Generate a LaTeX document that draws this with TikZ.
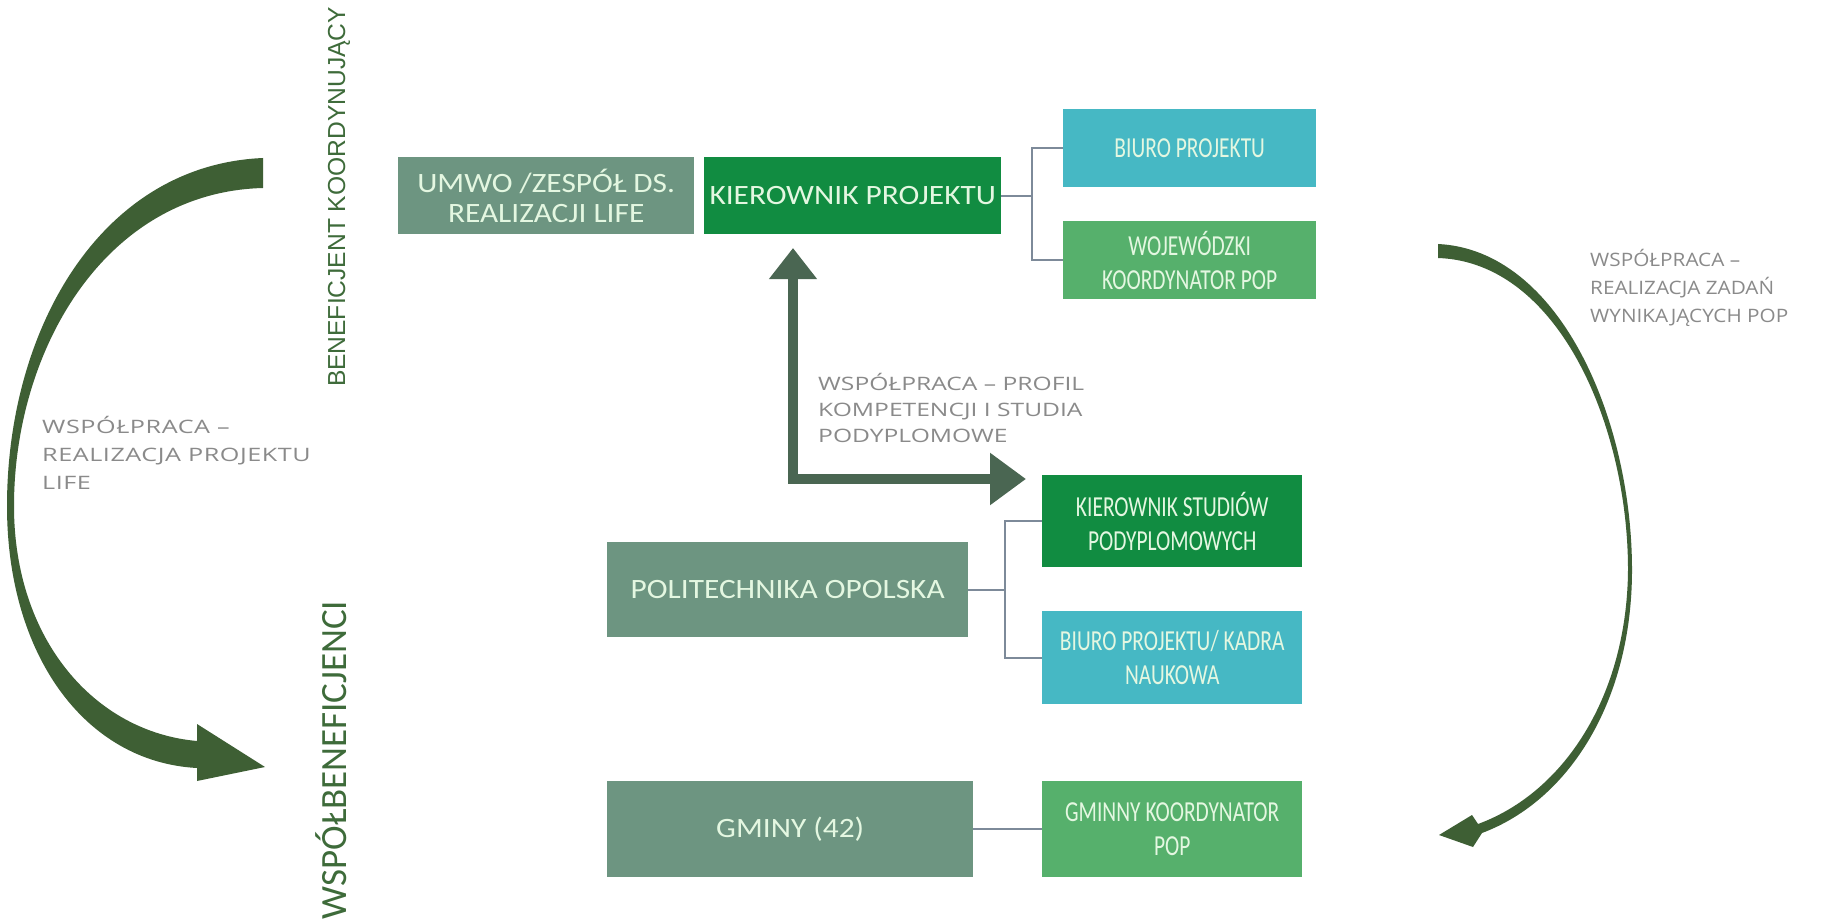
\documentclass[tikz,border=0pt]{standalone}
\usepackage{fontspec}
\setmainfont{Carlito}
\newfontfamily\boxfont[FakeStretch=1.12]{Carlito}
\newfontfamily\boxfontr[FakeStretch=0.74]{Carlito}
\newfontfamily\labfontl[FakeStretch=1.36,LetterSpace=3]{Open Sans}
\newfontfamily\labfontm[FakeStretch=1.33]{Open Sans}
\newfontfamily\labfontr[FakeStretch=1.12]{Open Sans}
\newfontfamily\vfonta{Liberation Sans}
\newfontfamily\vfontb{Carlito}
\usetikzlibrary{arrows.meta}
\definecolor{cgray}{HTML}{6D9581}
\definecolor{cdark}{HTML}{118C41}
\definecolor{cteal}{HTML}{46B8C4}
\definecolor{clight}{HTML}{56B06C}
\definecolor{boxtext}{HTML}{E4F7E1}
\definecolor{labc}{HTML}{8A8A8A}
\definecolor{connc}{HTML}{7D8A99}
\definecolor{arcc}{HTML}{3E5F34}
\definecolor{larc}{HTML}{4A6652}
\definecolor{vtc}{HTML}{3E6B3A}
\begin{document}
\begin{tikzpicture}[x=1pt,y=-1pt,
  box/.style={rectangle, inner sep=0pt, anchor=north west, align=center, text=boxtext,
    font=\boxfont\fontsize{28}{30}\selectfont},
  rbox/.style={box, font=\boxfontr\fontsize{29}{34}\selectfont},
  lab/.style={inner sep=0pt, anchor=north west, align=left, text=labc},
  vt/.style={inner sep=0pt, rotate=90, anchor=base, text=vtc},
  conn/.style={draw=connc, line width=2pt},
  arcshape/.style={fill=arcc},
  larrow/.style={draw=larc, line width=10pt, line join=miter,
    {Triangle[length=31pt,width=46pt]}-{Triangle[length=36pt,width=50pt]}}]
\useasboundingbox (0,0) rectangle (1842,920);
\fill[white] (0,0) rectangle (1842,920);

% boxes
\node[box, fill=cgray, minimum width=296pt, minimum height=77pt] (umwo) at (398,157) {UMWO /ZESPÓŁ DS.\\REALIZACJI LIFE};
\node[box, fill=cdark, minimum width=297pt, minimum height=77pt] (kp) at (704,157) {KIEROWNIK PROJEKTU};
\node[rbox, fill=cteal, minimum width=253pt, minimum height=78pt] (biuro) at (1063,109) {BIURO PROJEKTU};
\node[rbox, fill=clight, minimum width=253pt, minimum height=78pt] (woj) at (1063,221) {WOJEWÓDZKI\\KOORDYNATOR POP};
\node[rbox, fill=cdark, minimum width=260pt, minimum height=92pt] (ksp) at (1042,475) {KIEROWNIK STUDIÓW\\PODYPLOMOWYCH};
\node[box, fill=cgray, minimum width=361pt, minimum height=95pt] (pol) at (607,542) {POLITECHNIKA OPOLSKA};
\node[rbox, fill=cteal, minimum width=260pt, minimum height=93pt] (bpk) at (1042,611) {BIURO PROJEKTU/ KADRA\\NAUKOWA};
\node[box, fill=cgray, minimum width=366pt, minimum height=96pt] (gminy) at (607,781) {GMINY (42)};
\node[rbox, fill=clight, minimum width=260pt, minimum height=96pt] (gminny) at (1042,781) {GMINNY KOORDYNATOR\\POP};

% connectors
\draw[conn] (kp.east) -- ++(31,0) coordinate (kpb) |- (biuro.west);
\draw[conn] (kpb) |- (woj.west);
\draw[conn] (pol.east) -- ++(37,0) coordinate (polb) |- (ksp.west);
\draw[conn] (polb) |- (bpk.west);
\draw[conn] (gminy.east) -- (gminny.west);

% L-shaped double arrow
\coordinate (ltop) at (793,248);
\coordinate (lright) at (1026,479);
\draw[larrow] (ltop) |- (lright);

% left curved arrow
\fill[arcshape] (263,158) .. controls (100,165) and (7,330) .. (7,506)
  .. controls (7,655) and (85,762) .. (197,768)
  -- (197,781) -- (265,767) -- (197,724) -- (197,741)
  .. controls (95,732) and (14,640) .. (14,506)
  .. controls (14,350) and (105,192) .. (263,188) -- cycle;

% right curved arrow
\fill[arcshape] (1438,244) .. controls (1560,250) and (1632,420) .. (1632,570)
  .. controls (1632,700) and (1570,800) .. (1482,833)
  -- (1473,847) -- (1439,835) -- (1472,815) -- (1478,824)
  .. controls (1565,792) and (1627,695) .. (1628,570)
  .. controls (1628,425) and (1558,262) .. (1438,258) -- cycle;

% labels
\node[lab, font=\labfontl\fontsize{18.5}{28}\selectfont] (lleft) at (42,416) {WSPÓŁPRACA –\\REALIZACJA PROJEKTU\\LIFE};
\node[lab, font=\labfontm\fontsize{18.5}{26}\selectfont] (lmid) at (818,373) {WSPÓŁPRACA – PROFIL\\KOMPETENCJI I STUDIA\\PODYPLOMOWE};
\node[lab, font=\labfontr\fontsize{18.5}{28}\selectfont] (lright) at (1590,249) {WSPÓŁPRACA –\\REALIZACJA ZADAŃ\\WYNIKAJĄCYCH POP};

% vertical labels
\node[vt, font=\vfonta\fontsize{24.6}{27}\selectfont] (benef) at (345,197) {BENEFICJENT KOORDYNUJĄCY};
\node[vt, font=\vfontb\fontsize{37}{40}\selectfont] (wspb) at (346,760) {WSPÓŁBENEFICJENCI};
\end{tikzpicture}
\end{document}
